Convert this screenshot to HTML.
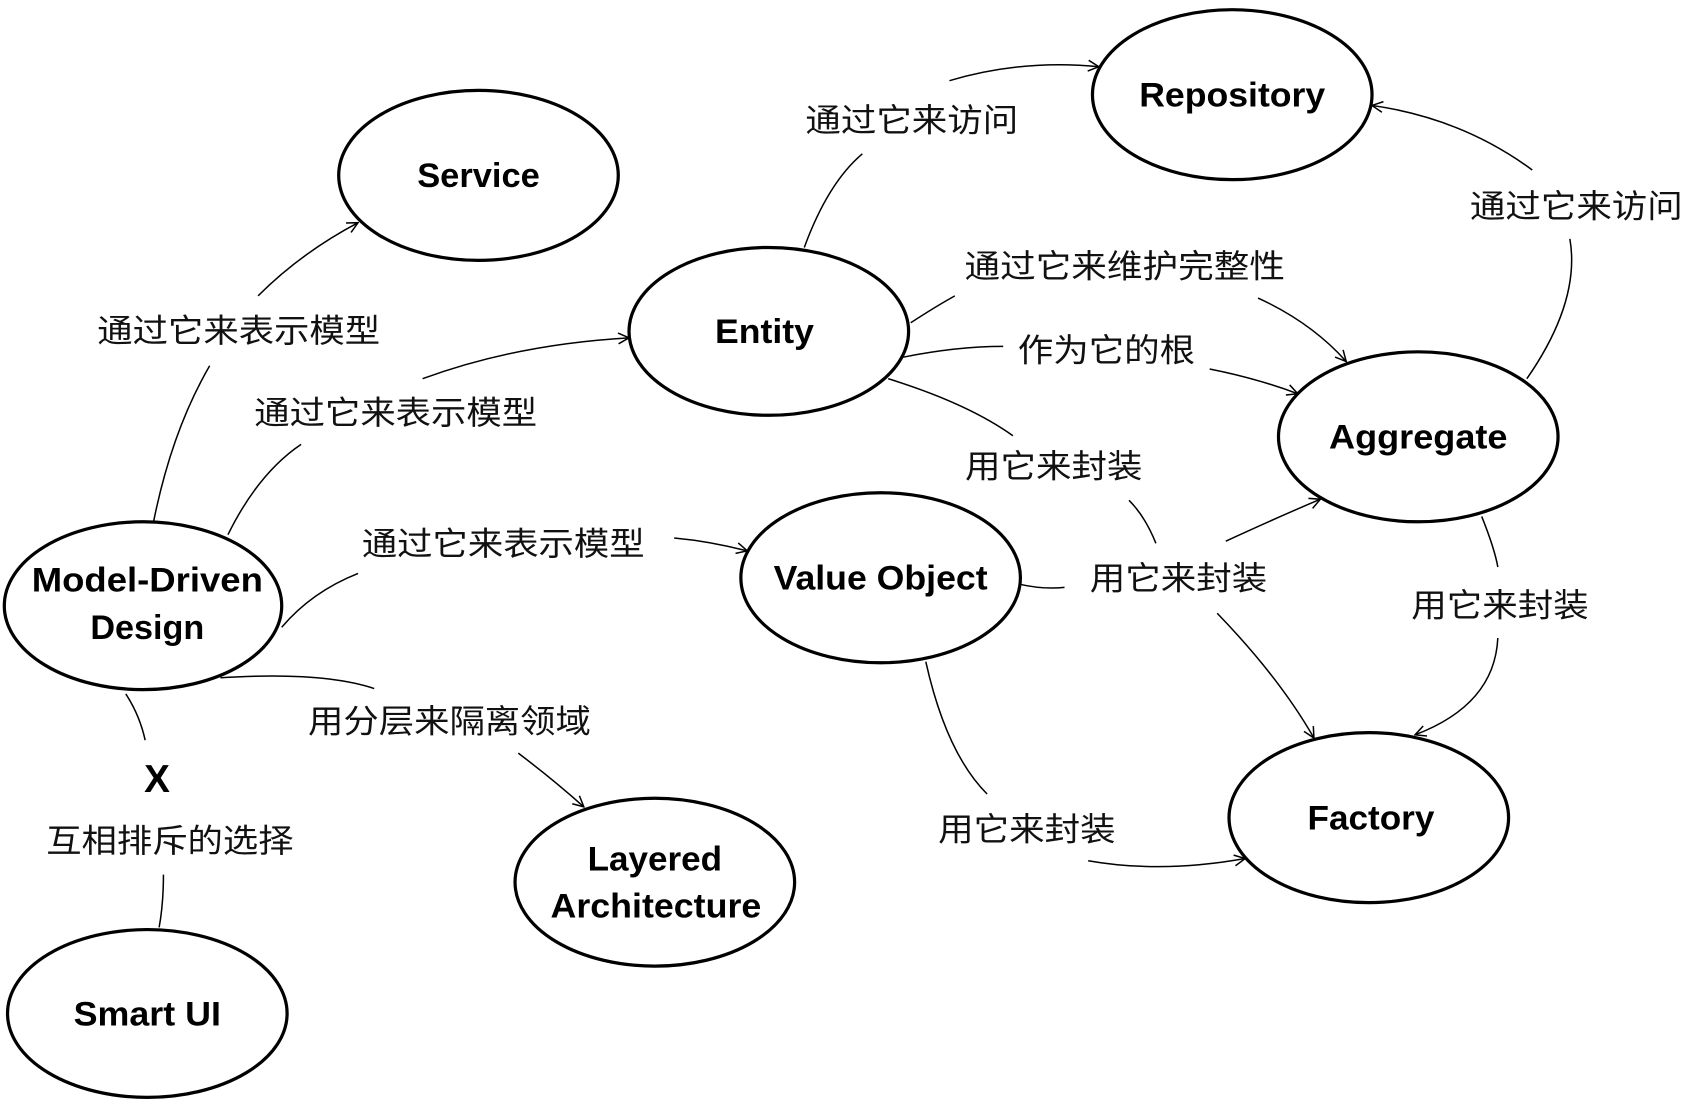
<!DOCTYPE html>
<html><head><meta charset="utf-8"><style>
html,body{margin:0;padding:0;background:#fff;}
svg{display:block;}
.n{font-family:"Liberation Sans",sans-serif;font-weight:bold;font-size:32px;fill:#000;}
.l{font-family:"Liberation Sans","Noto Sans CJK SC",sans-serif;font-size:30px;fill:#111;}
ellipse{fill:#fff;stroke:#000;stroke-width:3;}
path.c{fill:none;stroke:#000;stroke-width:1.4;}
</style></head><body>
<svg width="1686" height="1106" viewBox="0 0 1568 1028" preserveAspectRatio="none" xmlns="http://www.w3.org/2000/svg">
<defs><marker id="a" viewBox="0 0 12 12" refX="11" refY="6" markerWidth="12" markerHeight="12" markerUnits="userSpaceOnUse" orient="auto"><path d="M1,1 L11,6 L1,11" fill="none" stroke="#000" stroke-width="1.4"/></marker></defs>

<path class="c" d="M143,484 Q160,400 195,340"/>
<path class="c" d="M240,275 Q280,235 333,207" marker-end="url(#a)"/>
<path class="c" d="M212,497 Q240,440 280,413"/>
<path class="c" d="M393,352 Q480,320 585,314" marker-end="url(#a)"/>
<path class="c" d="M262,583 Q290,550 333,533"/>
<path class="c" d="M627,500 Q660,503 695,512" marker-end="url(#a)"/>
<path class="c" d="M205,630 Q300,624 348,640"/>
<path class="c" d="M482,700 Q515,725 543,750" marker-end="url(#a)"/>
<path class="c" d="M117,645 Q130,665 135,688"/>
<path class="c" d="M152,813 Q152,840 148,862"/>
<path class="c" d="M748,230 Q770,170 802,143"/>
<path class="c" d="M883,75 Q950,55 1022,62" marker-end="url(#a)"/>
<path class="c" d="M1420,352 Q1470,280 1460,222"/>
<path class="c" d="M1425,158 Q1360,110 1276,98" marker-end="url(#a)"/>
<path class="c" d="M847,300 Q870,285 888,275"/>
<path class="c" d="M1170,277 Q1220,300 1252,336" marker-end="url(#a)"/>
<path class="c" d="M840,332 Q890,322 933,322"/>
<path class="c" d="M1125,343 Q1170,352 1207,366" marker-end="url(#a)"/>
<path class="c" d="M826,352 Q900,375 942,405"/>
<path class="c" d="M1050,465 Q1065,480 1075,505"/>
<path class="c" d="M1132,570 Q1190,630 1222,686" marker-end="url(#a)"/>
<path class="c" d="M948,543 Q970,548 990,546"/>
<path class="c" d="M1140,503 Q1190,480 1228,464" marker-end="url(#a)"/>
<path class="c" d="M1378,480 Q1390,510 1393,527"/>
<path class="c" d="M1393,593 Q1390,655 1316,683" marker-end="url(#a)"/>
<path class="c" d="M861,615 Q880,700 918,738"/>
<path class="c" d="M1012,800 Q1080,812 1158,798" marker-end="url(#a)"/>

<ellipse cx="1146" cy="88" rx="130" ry="79"/>
<text class="n" x="1146" y="99" text-anchor="middle" textLength="173" lengthAdjust="spacingAndGlyphs">Repository</text>
<ellipse cx="445" cy="163" rx="130" ry="79"/>
<text class="n" x="445" y="174" text-anchor="middle" textLength="114" lengthAdjust="spacingAndGlyphs">Service</text>
<ellipse cx="715" cy="308" rx="130" ry="78"/>
<text class="n" x="711" y="319" text-anchor="middle" textLength="92" lengthAdjust="spacingAndGlyphs">Entity</text>
<ellipse cx="1319" cy="406" rx="130" ry="79"/>
<text class="n" x="1319" y="417" text-anchor="middle" textLength="166" lengthAdjust="spacingAndGlyphs">Aggregate</text>
<ellipse cx="819" cy="537" rx="130" ry="79"/>
<text class="n" x="819" y="548" text-anchor="middle" textLength="199" lengthAdjust="spacingAndGlyphs">Value Object</text>
<ellipse cx="133" cy="563" rx="129" ry="78"/>
<text class="n" x="137" y="550" text-anchor="middle" textLength="215" lengthAdjust="spacingAndGlyphs">Model-Driven</text>
<text class="n" x="137" y="594" text-anchor="middle" textLength="106" lengthAdjust="spacingAndGlyphs">Design</text>
<ellipse cx="1273" cy="760" rx="130" ry="79"/>
<text class="n" x="1275" y="771" text-anchor="middle" textLength="118" lengthAdjust="spacingAndGlyphs">Factory</text>
<ellipse cx="609" cy="820" rx="130" ry="78"/>
<text class="n" x="609" y="809" text-anchor="middle" textLength="125" lengthAdjust="spacingAndGlyphs">Layered</text>
<text class="n" x="610" y="853" text-anchor="middle" textLength="196" lengthAdjust="spacingAndGlyphs">Architecture</text>
<ellipse cx="137" cy="942" rx="130" ry="78"/>
<text class="n" x="137" y="953" text-anchor="middle" textLength="137" lengthAdjust="spacingAndGlyphs">Smart UI</text>

<text class="l" x="222" y="318" text-anchor="middle" textLength="263" lengthAdjust="spacingAndGlyphs">通过它来表示模型</text>
<text class="l" x="368" y="394" text-anchor="middle" textLength="263" lengthAdjust="spacingAndGlyphs">通过它来表示模型</text>
<text class="l" x="468" y="516" text-anchor="middle" textLength="263" lengthAdjust="spacingAndGlyphs">通过它来表示模型</text>
<text class="l" x="418" y="681" text-anchor="middle" textLength="263" lengthAdjust="spacingAndGlyphs">用分层来隔离领域</text>
<text class="n" x="146" y="736" text-anchor="middle" style="font-size:36px">X</text>
<text class="l" x="158" y="792" text-anchor="middle" textLength="230" lengthAdjust="spacingAndGlyphs">互相排斥的选择</text>
<text class="l" x="848" y="122" text-anchor="middle" textLength="198" lengthAdjust="spacingAndGlyphs">通过它来访问</text>
<text class="l" x="1466" y="202" text-anchor="middle" textLength="198" lengthAdjust="spacingAndGlyphs">通过它来访问</text>
<text class="l" x="1046" y="258" text-anchor="middle" textLength="298" lengthAdjust="spacingAndGlyphs">通过它来维护完整性</text>
<text class="l" x="1029" y="336" text-anchor="middle" textLength="165" lengthAdjust="spacingAndGlyphs">作为它的根</text>
<text class="l" x="980" y="444" text-anchor="middle" textLength="165" lengthAdjust="spacingAndGlyphs">用它来封装</text>
<text class="l" x="1096" y="548" text-anchor="middle" textLength="165" lengthAdjust="spacingAndGlyphs">用它来封装</text>
<text class="l" x="1395" y="573" text-anchor="middle" textLength="165" lengthAdjust="spacingAndGlyphs">用它来封装</text>
<text class="l" x="955" y="781" text-anchor="middle" textLength="165" lengthAdjust="spacingAndGlyphs">用它来封装</text>
</svg>
</body></html>
